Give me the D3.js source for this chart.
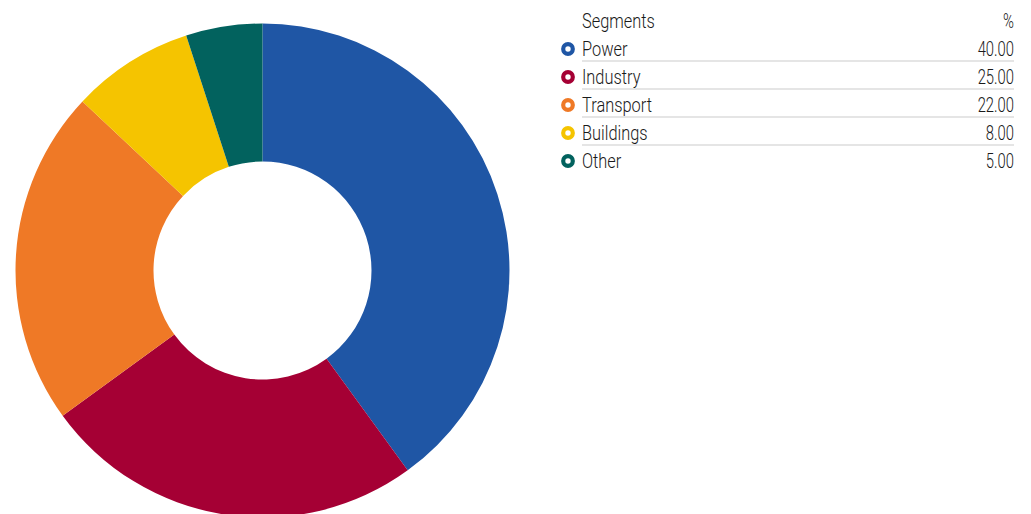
<!DOCTYPE html>
<html>
<head>
<meta charset="utf-8">
<script src="https://cdn.jsdelivr.net/npm/d3@7"></script>
<style>
  body { margin: 0; background: #fff; }
  svg text { font-family: Roboto, "DejaVu Sans Condensed", sans-serif; font-weight: 300; font-size: 20px; fill: #1a1a1a; }
</style>
</head>
<body>
<script>
const segments = ['Power', 'Industry', 'Transport', 'Buildings', 'Other'];
const shares = [40, 25, 22, 8, 5];
const colors = ['#1f56a5', '#a50034', '#ef7926', '#f5c400', '#02625e'];

const width = 1031;
const height = 514;

// condensed look: squeeze the text horizontally
const labelSqueeze = 0.82;
const numberSqueeze = 0.74;

const svg = d3.select('body')
  .append('svg')
  .attr('width', width)
  .attr('height', height);

// Donut
const data = segments.map((s, i) => ({ name: s, value: shares[i], color: colors[i] }));
const pie = d3.pie().sort(null).value(d => d.value);
const arc = d3.arc().innerRadius(109).outerRadius(247);

svg.append('g')
  .attr('transform', 'translate(262.5, 270.5)')
  .selectAll('path')
  .data(pie(data))
  .enter()
  .append('path')
  .attr('d', arc)
  .style('fill', d => d.data.color);

// Legend table
const rowY = d3.scalePoint()
  .domain(['header'].concat(segments))
  .range([28, 168]);

const leg = svg.append('g');

leg.append('text')
  .attr('transform', `translate(582, ${rowY('header')}) scale(${labelSqueeze}, 1)`)
  .text('Segments');

leg.append('text')
  .attr('transform', `translate(1014, ${rowY('header')}) scale(${numberSqueeze}, 1)`)
  .attr('text-anchor', 'end')
  .text('%');

const rows = leg.selectAll('g.row')
  .data(data)
  .enter()
  .append('g')
  .attr('class', 'row');

rows.append('circle')
  .attr('cx', 568)
  .attr('cy', d => rowY(d.name) - 7)
  .attr('r', 4.8)
  .style('fill', '#fff')
  .style('stroke', d => d.color)
  .style('stroke-width', 4.2);

rows.append('text')
  .attr('transform', d => `translate(582, ${rowY(d.name)}) scale(${labelSqueeze}, 1)`)
  .text(d => d.name);

rows.append('text')
  .attr('transform', d => `translate(1014, ${rowY(d.name)}) scale(${numberSqueeze}, 1)`)
  .attr('text-anchor', 'end')
  .text(d => d.value.toFixed(2));

rows.filter((d, i) => i < segments.length - 1)
  .append('line')
  .attr('x1', 582)
  .attr('x2', 1014)
  .attr('y1', d => rowY(d.name) + 5)
  .attr('y2', d => rowY(d.name) + 5)
  .style('stroke', '#dcdcdc')
  .style('stroke-width', 1.5);
</script>
</body>
</html>
